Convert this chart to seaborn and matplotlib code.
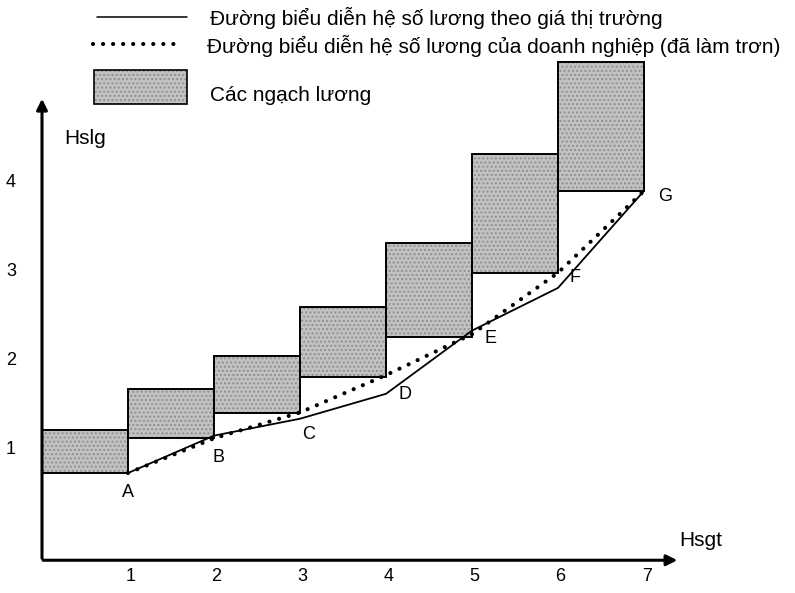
import matplotlib
matplotlib.use("Agg")
import matplotlib.pyplot as plt
import seaborn as sns
import pandas as pd
import numpy as np

# --- data ---
grades = [1, 2, 3, 4, 5, 6, 7]                 # Hsgt (right edge of each grade)
point_labels = ["A", "B", "C", "D", "E", "F", "G"]
box_bottom = [0.82, 1.21, 1.49, 1.90, 2.35, 3.07, 3.99]
box_top = [1.30, 1.76, 2.13, 2.69, 3.40, 4.40, 5.44]
market = [0.82, 1.24, 1.43, 1.71, 2.42, 2.90, 3.99]      # solid line
company = [0.82, 1.21, 1.50, 1.92, 2.38, 3.07, 3.99]     # dotted line
x_ticks = [1, 2, 3, 4, 5, 6, 7]
y_ticks = [1, 2, 3, 4]

legend_texts = [
    "Đường biểu diễn hệ số lương theo giá thị trường",
    "Đường biểu diễn hệ số lương của doanh nghiệp (đã làm trơn)",
    "Các ngạch lương",
]

sns.set_theme(style="white")
plt.rcParams["font.family"] = ["Liberation Sans", "DejaVu Sans"]
plt.rcParams["text.color"] = "black"

fig = plt.figure(figsize=(7.95, 5.93), dpi=100)
ax = fig.add_axes([0, 0, 1, 1])
ax.set_axis_off()
# pixel -> data: x = (px - 42) / 86, y = (546 - py) / 89
ax.set_xlim(-42 / 86, (795 - 42) / 86)
ax.set_ylim((546 - 593) / 89, 546 / 89)

FS = 15
FS_NUM = 13
FS_PT = 13
x_axis_y = -0.16

# salary grade boxes
heights = [t - b for t, b in zip(box_top, box_bottom)]
lefts = [g - 0.5 for g in grades]
ax.bar(lefts, heights, bottom=box_bottom, width=1.0, color="#c2c2c2",
       edgecolor="#909090", hatch="....", linewidth=0, zorder=1)
ax.bar(lefts, heights, bottom=box_bottom, width=1.0, fill=False,
       edgecolor="black", linewidth=1.4, zorder=2)

df = pd.DataFrame({"x": grades, "market": market, "company": company})
sns.lineplot(data=df, x="x", y="market", ax=ax, color="black", lw=1.3,
             zorder=3, legend=False)
sns.lineplot(data=df, x="x", y="company", ax=ax, color="black", lw=3.0,
             zorder=4, legend=False,
             dashes=False, linestyle=(0, (0.01, 2.4)),
             dash_capstyle="round")

# point labels
offsets = [(0.0, -0.22), (0.05, -0.22), (0.1, -0.24), (0.22, -0.2),
           (0.22, -0.02), (0.2, -0.05), (0.25, -0.06)]
for g, yv, lab, (dx, dy) in zip(grades, box_bottom, point_labels, offsets):
    ax.text(g + dx, yv + dy, lab, fontsize=FS_PT, ha="center", va="center")

# axes as arrows
ax.annotate("", xy=(7.42, x_axis_y), xytext=(-0.02, x_axis_y),
            arrowprops=dict(arrowstyle="-|>", color="black", lw=2.2,
                            mutation_scale=16))
ax.annotate("", xy=(0.0, (546 - 96) / 89), xytext=(0.0, x_axis_y - 0.01),
            arrowprops=dict(arrowstyle="-|>", color="black", lw=2.2,
                            mutation_scale=16))

for t in x_ticks:
    ax.text(t + 0.03, -0.34, str(t), fontsize=FS_NUM, ha="center", va="center")
for t in y_ticks:
    ax.text(-0.36, t + 0.08, str(t), fontsize=FS_NUM, ha="center", va="center")

ax.text(0.5, (546 - 138) / 89, "Hslg", fontsize=FS, ha="center", va="center")
ax.text(7.66, (546 - 540) / 89, "Hsgt", fontsize=FS, ha="center", va="center")

# legend drawn by hand at the top
def px(x):
    return (x - 42) / 86


def py(y):
    return (546 - y) / 89


ax.plot([px(97), px(187)], [py(17), py(17)], color="black", lw=1.1)
ax.plot([px(93), px(183)], [py(44), py(44)], color="black", lw=3.0,
        linestyle=(0, (0.01, 2.4)), dash_capstyle="round")
ax.bar(px(140.5), py(70) - py(104), bottom=py(104), width=px(187) - px(94),
       color="#c2c2c2", edgecolor="#909090", hatch="....", linewidth=0)
ax.bar(px(140.5), py(70) - py(104), bottom=py(104), width=px(187) - px(94),
       fill=False, edgecolor="black", linewidth=1.2)
ax.text(px(210), py(18), legend_texts[0], fontsize=FS, va="center")
ax.text(px(207), py(46), legend_texts[1], fontsize=FS, va="center")
ax.text(px(210), py(95), legend_texts[2], fontsize=FS, va="center")

fig.savefig("out.png", dpi=100)
